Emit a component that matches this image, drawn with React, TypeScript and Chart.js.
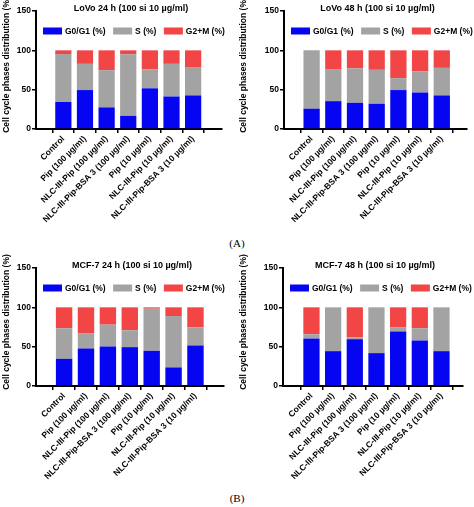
import React, { useEffect, useRef } from "react";
import { Chart, registerables } from "chart.js";

Chart.register(...registerables);

const CATEGORIES = [
  "Control",
  "Pip (100 µg/ml)",
  "NLC-III-Pip (100 µg/ml)",
  "NLC-III-Pip-BSA 3 (100 µg/ml)",
  "Pip (10 µg/ml)",
  "NLC-III-Pip (10 µg/ml)",
  "NLC-III-Pip-BSA 3 (10 µg/ml)",
];
const SERIES_NAMES = ["G0/G1 (%)", "S (%)", "G2+M (%)"];
const Y_TICKS = [0, 50, 100, 150];
const Y_TITLE = "Cell cycle phases distribution (%)";

const LOVO_24_G0G1 = [34.3, 49.5, 27.5, 16.6, 51.7, 41.3, 42.7];
const LOVO_24_S = [61.0, 33.3, 47.3, 78.4, 24.3, 41.5, 35.3];
const LOVO_24_G2M = [4.7, 17.2, 25.2, 5.0, 24.0, 17.2, 22.0];

const LOVO_48_G0G1 = [25.8, 35.4, 33.3, 32.1, 49.5, 46.4, 42.7];
const LOVO_48_S = [74.2, 40.8, 43.7, 43.1, 15.2, 27.1, 35.0];
const LOVO_48_G2M = [0, 23.8, 23.0, 24.8, 35.3, 26.5, 22.3];

const MCF7_24_G0G1 = [34.6, 47.7, 50.2, 49.4, 44.7, 23.6, 51.5];
const MCF7_24_S = [38.8, 19.0, 27.8, 21.5, 53.6, 65.4, 23.2];
const MCF7_24_G2M = [26.6, 33.3, 22.0, 29.1, 1.7, 11.0, 25.3];

const MCF7_48_G0G1 = [60.3, 44.3, 59.5, 41.8, 69.2, 57.8, 44.3];
const MCF7_48_S = [5.5, 55.7, 2.5, 57.7, 5.1, 15.6, 55.7];
const MCF7_48_G2M = [34.2, 0, 38.0, 0.5, 25.7, 26.6, 0];

const TITLES = [
  "LoVo 24 h (100 si 10 µg/ml)",
  "LoVo 48 h (100 si 10 µg/ml)",
  "MCF-7 24 h (100 si 10 µg/ml)",
  "MCF-7 48 h (100 si 10 µg/ml)",
];

const COLORS = ["#0505F2", "#A3A3A3", "#F24545"];
const FONT = "'Liberation Sans', Arial, Helvetica, sans-serif";

type Area = { l: number; r: number; t: number; b: number };
type PanelProps = {
  title: string;
  series: number[][];
  left: number;
  top: number;
  width: number;
  height: number;
  area: Area;
  xMin: number;
  xMax: number;
};

const panelText = {
  id: "panelText",
  afterDraw(chart: any, _args: any, opts: any) {
    const { ctx, chartArea: a } = chart;
    ctx.save();
    ctx.fillStyle = "#000";
    ctx.textBaseline = "middle";
    // title
    ctx.font = `bold 9px ${FONT}`;
    ctx.textAlign = "center";
    ctx.fillText(opts.title, (a.left + a.right) / 2 + 2, a.top - 2);
    // legend
    ctx.font = `bold 8.5px ${FONT}`;
    ctx.textAlign = "left";
    let x = a.left + 7;
    const ly = a.top + 20;
    chart.data.datasets.forEach((ds: any) => {
      ctx.fillStyle = ds.backgroundColor;
      ctx.fillRect(x, ly - 3.5, 19, 7);
      ctx.fillStyle = "#000";
      ctx.fillText(ds.label, x + 22, ly + 0.5);
      x += 22 + ctx.measureText(ds.label).width + 7.5;
    });
    // y title
    ctx.translate(7, (a.top + a.bottom) / 2 - 5);
    ctx.rotate(-Math.PI / 2);
    ctx.textAlign = "center";
    ctx.font = `bold 8.5px ${FONT}`;
    ctx.fillText(Y_TITLE, 0, 0);
    ctx.restore();
  },
};

function Panel(p: PanelProps) {
  const ref = useRef<HTMLCanvasElement | null>(null);
  useEffect(() => {
    if (!ref.current) return;
    const tickFont = { family: FONT, size: 8.5, weight: "bold" as const };
    const grid = {
      display: true,
      drawOnChartArea: false,
      drawTicks: true,
      tickLength: 4,
      color: "#000",
      lineWidth: 1.5,
    };
    const border = { display: true, color: "#000", width: 2 };
    const chart = new Chart(ref.current, {
      type: "bar",
      data: {
        datasets: SERIES_NAMES.map((name, k) => ({
          label: name,
          data: p.series[k].map((v, i) => ({ x: i, y: v })),
          backgroundColor: COLORS[k],
          borderWidth: 0,
          barPercentage: 0.75,
          categoryPercentage: 1,
        })),
      },
      options: {
        animation: false,
        responsive: false,
        maintainAspectRatio: false,
        layout: {
          padding: { left: 0, right: p.width - p.area.r, top: p.area.t, bottom: 0 },
        },
        plugins: {
          legend: { display: false },
          title: { display: false },
          tooltip: { enabled: false },
          panelText: { title: p.title },
        } as any,
        scales: {
          x: {
            type: "linear",
            stacked: true,
            min: p.xMin,
            max: p.xMax,
            afterFit: (s: any) => {
              s.height = p.height - p.area.b;
            },
            afterBuildTicks: (s: any) => {
              s.ticks = CATEGORIES.map((_, i) => ({ value: i }));
            },
            ticks: {
              autoSkip: false,
              maxRotation: 45,
              minRotation: 45,
              padding: 1,
              color: "#000",
              font: tickFont,
              callback: (v: any) => CATEGORIES[v as number] ?? "",
            },
            grid,
            border,
          },
          y: {
            stacked: true,
            min: 0,
            max: 150,
            afterFit: (s: any) => {
              s.width = p.area.l;
            },
            afterBuildTicks: (s: any) => {
              s.ticks = Y_TICKS.map((v) => ({ value: v }));
            },
            ticks: {
              padding: 1,
              color: "#000",
              font: tickFont,
            },
            grid,
            border,
          },
        } as any,
      },
      plugins: [panelText],
    });
    return () => chart.destroy();
  }, []);
  return (
    <canvas
      ref={ref}
      width={p.width}
      height={p.height}
      style={{ position: "absolute", left: p.left, top: p.top, width: p.width, height: p.height }}
    />
  );
}

export default function App() {
  const labelStyle: React.CSSProperties = {
    position: "absolute",
    left: 0,
    width: 474,
    textAlign: "center",
    fontFamily: "'Liberation Serif', 'Times New Roman', serif",
    fontSize: 11,
    lineHeight: "14px",
    color: "#000",
  };
  return (
    <div style={{ position: "absolute", left: 0, top: 0, width: 474, height: 507, background: "#fff", overflow: "hidden" }}>
      <Panel
        title={TITLES[0]}
        series={[LOVO_24_G0G1, LOVO_24_S, LOVO_24_G2M]}
        left={0}
        top={0}
        width={237}
        height={230}
        area={{ l: 36, r: 222, t: 11, b: 129 }}
        xMin={-0.65}
        xMax={6.72}
      />
      <Panel
        title={TITLES[1]}
        series={[LOVO_48_G0G1, LOVO_48_S, LOVO_48_G2M]}
        left={237}
        top={0}
        width={237}
        height={230}
        area={{ l: 47, r: 230, t: 11, b: 129 }}
        xMin={-0.67}
        xMax={6.56}
      />
      <div style={{ ...labelStyle, top: 236 }}>(A)</div>
      <Panel
        title={TITLES[2]}
        series={[MCF7_24_G0G1, MCF7_24_S, MCF7_24_G2M]}
        left={0}
        top={250}
        width={237}
        height={240}
        area={{ l: 36, r: 224, t: 18, b: 136 }}
        xMin={-0.67}
        xMax={6.69}
      />
      <Panel
        title={TITLES[3]}
        series={[MCF7_48_G0G1, MCF7_48_S, MCF7_48_G2M]}
        left={237}
        top={250}
        width={237}
        height={240}
        area={{ l: 46, r: 226, t: 18, b: 136 }}
        xMin={-0.72}
        xMax={6.4}
      />
      <div style={{ ...labelStyle, top: 491 }}>(B)</div>
    </div>
  );
}
